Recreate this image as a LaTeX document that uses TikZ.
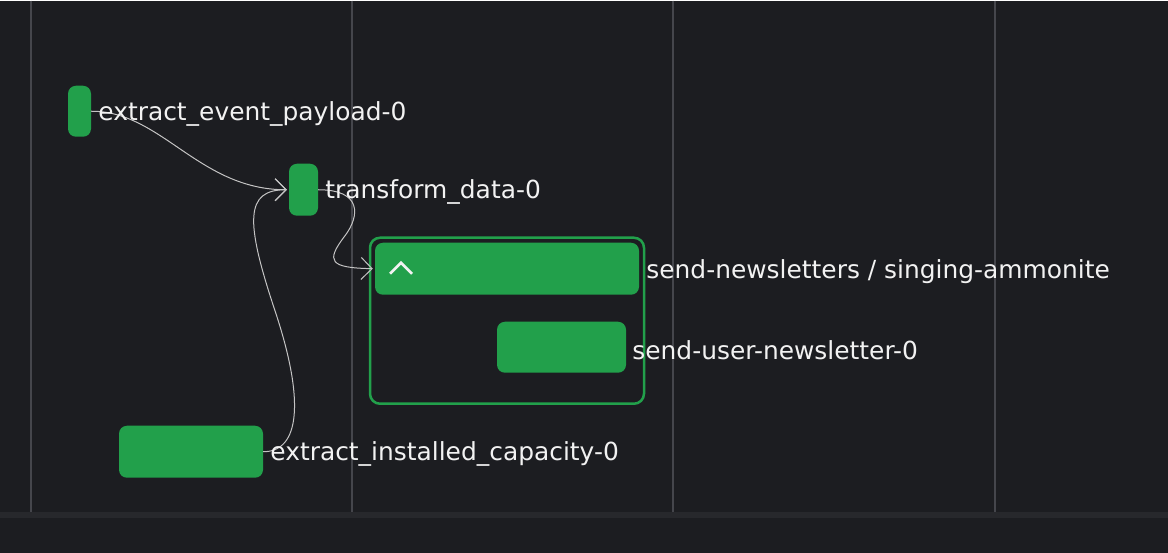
\documentclass[tikz,border=0pt]{standalone}
\usepackage{fontspec}
\setmainfont{DejaVu Sans}
\usetikzlibrary{arrows.meta}
\definecolor{bgdark}{HTML}{1C1D21}
\definecolor{bandgray}{HTML}{27282C}
\definecolor{gridgray}{HTML}{45464C}
\definecolor{taskgreen}{HTML}{22A04B}
\definecolor{edgegray}{HTML}{C4C4C4}
\definecolor{labelwhite}{HTML}{F2F2F2}
\begin{document}
\begin{tikzpicture}[x=1pt,y=-1pt,
 task/.style={fill=taskgreen,rounded corners=8pt,inner sep=0pt,minimum width=#1},
 task/.default=30pt,
 tasklabel/.style={anchor=west,inner sep=0pt,text=labelwhite,font=\fontsize{24.9}{27}\selectfont},
 edge/.style={edgegray,line width=1pt,shorten >=2pt,-{Straight Barb[length=11pt,width=22pt,line width=1pt]}}]
 % background and time grid
 \fill[bgdark] (0,0) rectangle (1168,552);
 \fill[bandgray] (0,511) rectangle (1168,517);
 \foreach \gx in {31,352,673,995}
  \draw[gridgray,line width=1.5pt] (\gx,0) -- (\gx,511);
 % group box
 \node[draw=taskgreen,line width=2.5pt,rounded corners=10pt,minimum width=274pt,minimum height=166pt,inner sep=0pt] (grp) at (507,320) {};
 % tasks
 \node[task=23pt,minimum height=51pt] (ev) at (79.5,110.5) {};
 \node[task=29pt,minimum height=52pt] (tr) at (303.5,189) {};
 \node[task=264pt,minimum height=52pt] (hdr) at (507,268) {};
 \node[task=129pt,minimum height=51pt] (usr) at (561.5,346.5) {};
 \node[task=144pt,minimum height=52pt] (cap) at (191,451) {};
 \draw[labelwhite,line width=2.5pt] (390,273) -- (401,262) -- (412,273);
 % dependencies
 \draw[edge] (ev.east) .. controls (161,110) and (199,189) .. (tr.west);
 \draw[edge] (cap.east) .. controls (300,451) and (305,400) .. (275,310)
  .. controls (245,220) and (245,189) .. (tr.west);
 \draw[edge] (tr.east) .. controls (362,189) and (360,215) .. (345,235)
  .. controls (325,261) and (330,267) .. (hdr.west);
 % labels
 \node[tasklabel] (evl) at ([xshift=7pt,yshift=-2.5pt]ev.east) {extract\_event\_payload-0};
 \node[tasklabel] (trl) at ([xshift=7pt,yshift=-2.5pt]tr.east) {transform\_data-0};
 \node[tasklabel] (hdrl) at ([xshift=7pt,yshift=-2.5pt]hdr.east) {send-newsletters / singing-ammonite};
 \node[tasklabel] (usrl) at ([xshift=6pt,yshift=-2.5pt]usr.east) {send-user-newsletter-0};
 \node[tasklabel] (capl) at ([xshift=7pt,yshift=-2.5pt]cap.east) {extract\_installed\_capacity-0};
\end{tikzpicture}
\end{document}
